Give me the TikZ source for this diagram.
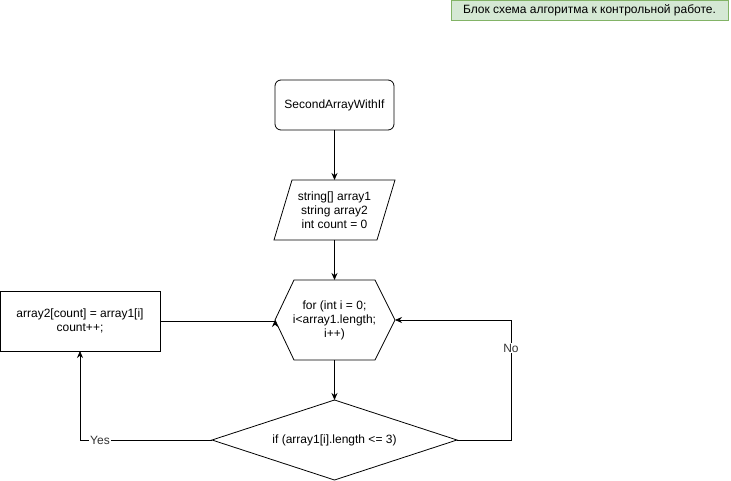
\documentclass[tikz,border=0pt]{standalone}
\usepackage{fontspec}
\setmainfont{Liberation Sans}
\usetikzlibrary{arrows.meta}
\definecolor{gfill}{HTML}{D5E8D4}
\definecolor{gline}{HTML}{82B366}
\begin{document}
\begin{tikzpicture}[x=1pt,y=-1pt,
  every node/.style={font=\fontsize{12}{14}\selectfont, align=center, inner sep=0pt},
  shp/.style={draw=black, line width=0.8pt, fill=white},
  conn/.style={draw=black, line width=0.8pt, -{Stealth[length=7pt,width=6pt]}},
  line/.style={draw=black, line width=0.8pt},
  lbl/.style={fill=white, inner sep=1pt, text=black!80}]
\useasboundingbox (0,0) rectangle (731,481);
\fill[white] (0,0) rectangle (731,481);
% title
\draw[fill=gfill, draw=gline, line width=0.8pt] (451,0.5) rectangle (728,20);
\node (title) at (589.5,10.5) {Блок схема алгоритма к контрольной работе.};
% start
\draw[shp, rounded corners=6pt] (275,80) rectangle (394,130);
\node (start) at (334.5,105) {SecondArrayWithIf};
\coordinate (startB) at (334.5,130);
% parallelogram
\draw[shp] (292,180) -- (395,180) -- (377,240) -- (274,240) -- cycle;
\node (decl) at (334.5,210) {string[] array1\\string array2\\int count = 0};
\coordinate (declT) at (334.5,180);
\coordinate (declB) at (334.5,240);
% hexagon
\draw[shp] (294,280) -- (375,280) -- (395,320) -- (375,360) -- (294,360) -- (275,320) -- cycle;
\node (loop) at (334.5,320) {for (int i = 0;\\i<array1.length;\\i++)};
\coordinate (loopT) at (334.5,280);
\coordinate (loopB) at (334.5,360);
\coordinate (loopL) at (275,320);
\coordinate (loopR) at (395,320);
% diamond
\draw[shp] (334.5,400) -- (457,440) -- (334.5,480) -- (212,440) -- cycle;
\node (cond) at (334.5,440) {if (array1[i].length <= 3)};
\coordinate (condT) at (334.5,400);
\coordinate (condL) at (212,440);
\coordinate (condR) at (457,440);
% process box
\draw[shp] (0.5,291) rectangle (160,351);
\node (proc) at (80,321) {array2[count] = array1[i]\\count++;};
\coordinate (procB) at (80,351);
\coordinate (procR) at (160,321);
% connectors
\draw[conn] (startB) -- (declT);
\draw[conn] (declB) -- (loopT);
\draw[conn] (loopB) -- (condT);
\draw[conn] (procR) -- (procR -| loopL) -- (loopL);
\coordinate (yesC) at (80,440);
\draw[conn] (condL) -- (yesC) -- (procB);
\node[lbl] (yes) at (100,440) {Yes};
\coordinate (noA) at (511,440);
\coordinate (noB) at (511,320);
\draw[conn] (condR) -- (noA) -- (noB) -- (loopR);
\node[lbl] (no) at (511,348) {No};
\end{tikzpicture}
\end{document}
